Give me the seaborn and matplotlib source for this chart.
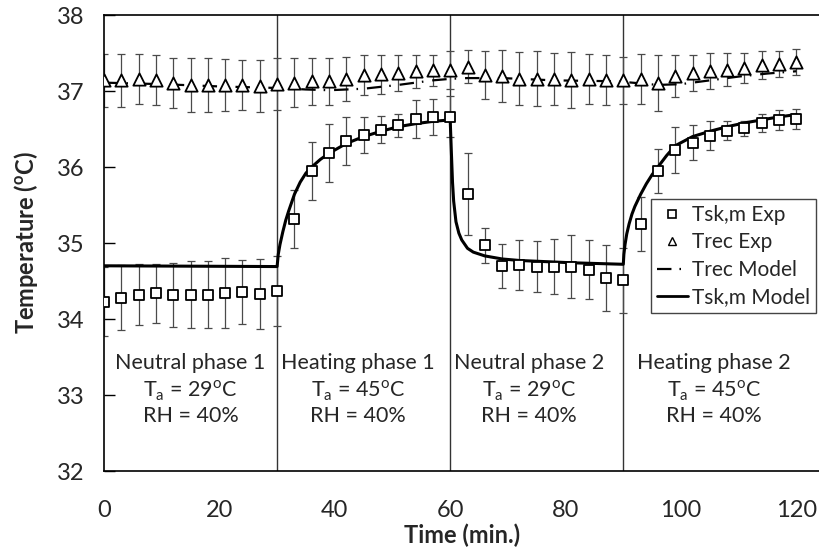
import matplotlib
matplotlib.use("Agg")
import matplotlib.pyplot as plt
import seaborn as sns
import pandas as pd
from matplotlib.lines import Line2D

# ---- measured data (time in minutes, temperatures in degC) ----
time_exp = [0, 3, 6, 9, 12, 15, 18, 21, 24, 27, 30,
            33, 36, 39, 42, 45, 48, 51, 54, 57, 60,
            63, 66, 69, 72, 75, 78, 81, 84, 87, 90,
            93, 96, 99, 102, 105, 108, 111, 114, 117, 120]

tsk_exp = [34.23, 34.28, 34.32, 34.34, 34.32, 34.32, 34.32, 34.34, 34.36, 34.33, 34.37,
           35.32, 35.95, 36.18, 36.34, 36.42, 36.49, 36.55, 36.63, 36.66, 36.66,
           35.64, 34.97, 34.70, 34.71, 34.69, 34.69, 34.69, 34.65, 34.54, 34.51,
           35.25, 35.95, 36.22, 36.32, 36.41, 36.48, 36.51, 36.58, 36.62, 36.63]

tsk_sd = [0.45, 0.43, 0.40, 0.39, 0.42, 0.44, 0.44, 0.46, 0.42, 0.46, 0.46,
          0.38, 0.38, 0.38, 0.32, 0.24, 0.18, 0.15, 0.25, 0.24, 0.27,
          0.54, 0.23, 0.29, 0.33, 0.33, 0.36, 0.42, 0.39, 0.43, 0.43,
          0.35, 0.29, 0.30, 0.23, 0.19, 0.12, 0.10, 0.12, 0.13, 0.13]

trec_exp = [37.14, 37.14, 37.16, 37.14, 37.11, 37.08, 37.08, 37.08, 37.08, 37.07, 37.09,
            37.11, 37.13, 37.13, 37.16, 37.21, 37.22, 37.24, 37.26, 37.27, 37.28,
            37.32, 37.21, 37.20, 37.16, 37.16, 37.16, 37.14, 37.16, 37.15, 37.14,
            37.16, 37.11, 37.20, 37.24, 37.26, 37.28, 37.30, 37.34, 37.35, 37.38]

trec_sd = [0.35, 0.35, 0.33, 0.33, 0.33, 0.36, 0.35, 0.34, 0.33, 0.34, 0.34,
           0.32, 0.31, 0.31, 0.29, 0.26, 0.26, 0.24, 0.22, 0.21, 0.25,
           0.22, 0.31, 0.34, 0.35, 0.36, 0.34, 0.37, 0.33, 0.33, 0.31,
           0.33, 0.37, 0.28, 0.24, 0.24, 0.22, 0.20, 0.18, 0.17, 0.17]

# ---- model output ----
tsk_model_t = [0, 30, 30.2, 30.5, 31, 31.5, 32, 33, 34, 35, 36, 37.5, 39, 42, 45, 48, 51, 54, 57, 60,
               60.2, 60.4, 60.6, 61, 61.5, 62, 63, 64, 66, 69, 72, 75, 81, 90,
               90.1, 90.3, 90.6, 91, 91.5, 92, 93, 94, 95, 96, 97.5, 99, 102, 105, 108, 111, 114, 117, 120]
tsk_model = [34.70, 34.69, 34.85, 34.98, 35.15, 35.30, 35.42, 35.64, 35.80, 35.92, 36.00, 36.10, 36.18,
             36.31, 36.40, 36.47, 36.53, 36.57, 36.60, 36.62,
             36.20, 35.80, 35.55, 35.28, 35.13, 35.04, 34.93, 34.88, 34.83, 34.79, 34.77, 34.76, 34.74, 34.72,
             34.85, 34.98, 35.12, 35.25, 35.38, 35.48, 35.64, 35.78, 35.90, 36.00, 36.15, 36.28,
             36.40, 36.47, 36.53, 36.58, 36.62, 36.66, 36.69]

trec_model_t = [0, 10, 20, 30, 35, 39, 45, 51, 57, 60, 63, 69, 78, 87, 90, 96, 100, 105, 110, 115, 120]
trec_model = [37.11, 37.09, 37.06, 37.04, 37.02, 37.01, 37.03, 37.08, 37.14, 37.16, 37.17, 37.17,
              37.14, 37.13, 37.12, 37.08, 37.09, 37.14, 37.19, 37.23, 37.26]

phase_bounds = [30, 60, 90]
phase_names = ["Neutral phase 1", "Heating phase 1", "Neutral phase 2", "Heating phase 2"]
phase_ta = [29, 45, 29, 45]
phase_rh = [40, 40, 40, 40]
phase_x = [15, 44, 73.7, 105.7]

sns.set_theme(style="ticks")
plt.rcParams["font.family"] = ["Lato", "DejaVu Sans"]
plt.rcParams["mathtext.fontset"] = "custom"
plt.rcParams["mathtext.rm"] = "Lato"

fig = plt.figure(figsize=(8.2, 5.54), dpi=100)
ax = fig.add_axes([104 / 820, 1 - 471 / 554, 1 - 104 / 820, (471 - 15) / 554])

exp = pd.DataFrame({"t": time_exp, "tsk": tsk_exp, "tsk_sd": tsk_sd,
                    "trec": trec_exp, "trec_sd": trec_sd})

# phase separators
for xb in phase_bounds:
    ax.axvline(xb, color="#333333", lw=1.0, zorder=1)

# error bars
err_kw = dict(fmt="none", ecolor="#4a4a4a", elinewidth=0.9, capsize=3.2, capthick=0.9, zorder=2)
ax.errorbar(exp["t"], exp["tsk"], yerr=exp["tsk_sd"], **err_kw)
ax.errorbar(exp["t"], exp["trec"], yerr=exp["trec_sd"], **err_kw)

# model curves
sns.lineplot(x=tsk_model_t, y=tsk_model, ax=ax, color="black", lw=2.2,
             estimator=None, sort=False, zorder=3)
sns.lineplot(x=trec_model_t, y=trec_model, ax=ax, color="black", lw=1.6,
             estimator=None, sort=False, zorder=3, linestyle=(0, (6.5, 3.6, 0.7, 4.0)))

# experimental points
sns.scatterplot(data=exp, x="t", y="tsk", ax=ax, marker="s", s=46,
                facecolor="white", edgecolor="black", linewidth=1.3, zorder=4)
sns.scatterplot(data=exp, x="t", y="trec", ax=ax, marker="^", s=78,
                facecolor="white", edgecolor="black", linewidth=1.3, zorder=4)

# phase annotations
for xp, name, ta, rh in zip(phase_x, phase_names, phase_ta, phase_rh):
    ax.text(xp, 33.42, name, ha="center", va="center", fontsize=15.5)
    ax.text(xp, 33.06, r"T$_{\mathregular{a}}$ = " + f"{ta}" + r"$^{\mathregular{o}}$C",
            ha="center", va="center", fontsize=15.5)
    ax.text(xp, 32.73, f"RH = {rh}%", ha="center", va="center", fontsize=15.5)

ax.set_xlim(0, (820 - 104) / 5.77)
ax.set_ylim(32, 38)
ax.set_xticks([0, 20, 40, 60, 80, 100, 120])
ax.set_yticks([32, 33, 34, 35, 36, 37, 38])
ax.tick_params(axis="both", labelsize=17, direction="in", length=8, width=1, color="black", pad=14)
ax.tick_params(axis="x", length=0, pad=21)
for side in ["left", "top", "bottom"]:
    ax.spines[side].set_color("black")
    ax.spines[side].set_linewidth(1.2)
ax.spines["right"].set_visible(False)

ax.set_xlabel("Time (min.)", fontsize=17, fontweight="bold", labelpad=2)
ax.set_ylabel(r"Temperature ($^{\mathregular{o}}$C)", fontsize=17, fontweight="bold", labelpad=12)

handles = [
    Line2D([], [], ls="none", marker="s", ms=6, mfc="white", mec="black", mew=1.2),
    Line2D([], [], ls="none", marker="^", ms=6, mfc="white", mec="black", mew=1.0),
    Line2D([], [], color="black", lw=1.6, ls=(0, (6.5, 3.6, 0.7, 4.0))),
    Line2D([], [], color="black", lw=2.0),
]
labels = ["Tsk,m Exp", "Trec Exp", "Trec Model", "Tsk,m Model"]
leg = ax.legend(handles, labels, loc="upper left", bbox_to_anchor=(651 / 820, 1 - 199 / 554),
                bbox_transform=fig.transFigure, borderaxespad=0, fontsize=15, frameon=True,
                fancybox=False, edgecolor="#444444", framealpha=1, handlelength=1.5,
                handletextpad=0.2, labelspacing=0.36, borderpad=0.28)
leg.get_frame().set_linewidth(1.0)

fig.savefig("out.png", dpi=100)
